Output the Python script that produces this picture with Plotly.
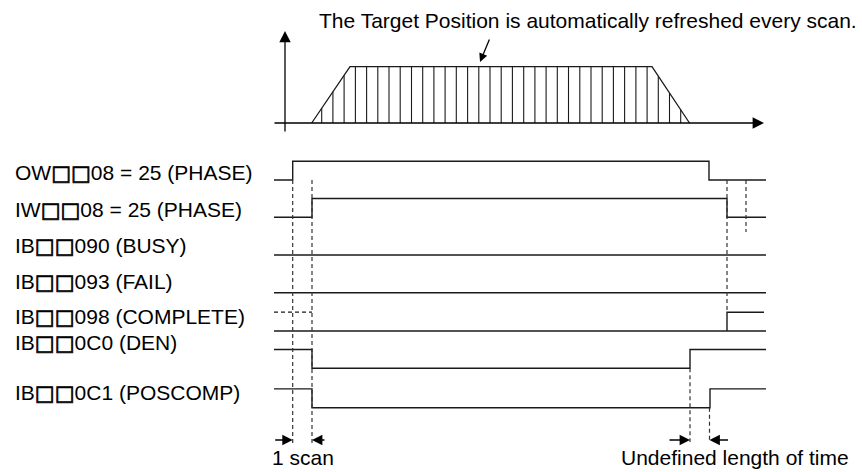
import plotly.graph_objects as go

# ---------------- data ----------------
# top chart: target position profile (time, normalised value)
profile_t = [311.7, 350.0, 652.0, 689.5]
profile_v = [0.0, 1.0, 1.0, 0.0]
# target position sampled on every scan
scan_t = [321.7, 332.9, 344.1, 355.4, 366.6, 377.8, 389.0, 400.2, 411.5, 422.7,
          433.9, 445.1, 456.3, 467.6, 478.8, 490.0, 501.2, 512.4, 523.7, 534.9,
          546.1, 557.3, 568.5, 579.8, 591.0, 602.2, 613.4, 624.6, 635.9, 647.1,
          658.3, 669.5, 680.7]
scan_v = [0.261, 0.554, 0.846] + [1.0] * 27 + [0.832, 0.533, 0.235]

title_text = "The Target Position is automatically refreshed every scan."

# timing diagram signals
SQ = '<span style="font-family:DejaVu Sans;stroke:#000;stroke-width:0.7px">\u25a1\u25a1</span>'
label_prefix = ["OW", "IW", "IB", "IB", "IB", "IB", "IB"]
label_suffix = ["08 = 25 (PHASE)", "08 = 25 (PHASE)", "090 (BUSY)", "093 (FAIL)",
                "098 (COMPLETE)", "0C0 (DEN)", "0C1 (POSCOMP)"]
init_level = [0, 0, 0, 0, 0, 1, 1]
toggle_t = [[292.7, 709.0], [312.0, 727.0], [], [], [727.0], [312.0, 690.0], [312.0, 710.0]]
complete_unknown_t = [274.0, 312.0]   # undefined COMPLETE state before the command
t_start, t_end = 274.0, 766.0

scan_marks = [292.7, 312.0]          # "1 scan"
undefined_marks = [690.0, 709.5]     # "Undefined length of time"
phase_end_marks = [727.0, 746.0]

# ---------------- layout helpers (positions) ----------------
TOP_BASE, TOP_AMP = 123.0, 56.3
row_low = [180.0, 217.3, 255.0, 292.7, 331.0, 368.3, 407.7]
row_label_y = [173.0, 210.0, 246.0, 282.0, 317.0, 343.0, 393.0]
LEVEL_H = 18.8
FONT = "Liberation Sans, Arial, sans-serif"
LINE = "#1a1a1a"

fig = go.Figure()

def seg_trace(xs, ys, width=1.4, dash=None, color=LINE):
    fig.add_trace(go.Scatter(x=xs, y=ys, mode="lines", hoverinfo="skip",
                             line=dict(color=color, width=width, dash=dash)))

def arrow(x, y, ax, ay, size=1.7, width=1.3):
    fig.add_annotation(x=x, y=y, ax=ax, ay=ay, xref="x", yref="y", axref="x", ayref="y",
                       text="", showarrow=True, arrowhead=2, arrowsize=size,
                       arrowwidth=width, arrowcolor="#000000", standoff=0, startstandoff=0)

# ---- top chart ----
arrow(285, 31, 285, 133, size=1.75)
arrow(764, TOP_BASE, 273, TOP_BASE, size=1.75)
seg_trace(profile_t, [TOP_BASE - v * TOP_AMP for v in profile_v], width=1.3)
xs, ys = [], []
for t, v in zip(scan_t, scan_v):
    xs += [t, t, None]
    ys += [TOP_BASE, TOP_BASE - v * TOP_AMP, None]
seg_trace(xs, ys, width=1.1)
fig.add_annotation(x=588, y=20, text=title_text, showarrow=False, xref="x", yref="y",
                   font=dict(family=FONT, size=21, color="#000"), xanchor="center", yanchor="middle")
arrow(480, 62, 490, 38, size=1.3, width=1.3)

# ---- signals ----
for i in range(len(label_prefix)):
    low = row_low[i]
    lvl = init_level[i]
    xs = [t_start]
    ys = [low - lvl * LEVEL_H]
    for t in toggle_t[i]:
        xs += [t, t]
        ys += [low - lvl * LEVEL_H, low - (1 - lvl) * LEVEL_H]
        lvl = 1 - lvl
    xs.append(t_end)
    ys.append(low - lvl * LEVEL_H)
    if i == 4:
        seg_trace([t_start, t_end], [low, low])
        seg_trace([toggle_t[i][0], toggle_t[i][0], t_end - 2],
                  [low, low - LEVEL_H, low - LEVEL_H])
        seg_trace(complete_unknown_t, [low - LEVEL_H, low - LEVEL_H], width=1.2, dash="4px,3px")
    else:
        seg_trace(xs, ys)
    fig.add_annotation(x=13, y=row_label_y[i], text=label_prefix[i] + SQ + label_suffix[i],
                       showarrow=False, xref="x", yref="y", xanchor="left", yanchor="middle",
                       font=dict(family=FONT, size=21, color="#000"))

# ---- dashed markers ----
DASH = "4px,3px"
xs, ys = [], []
for t in scan_marks:
    xs += [t, t, None]; ys += [row_low[0], 446, None]
xs += [phase_end_marks[0], phase_end_marks[0], None]; ys += [row_low[0], row_low[4] - LEVEL_H, None]
xs += [phase_end_marks[1], phase_end_marks[1], None]; ys += [row_low[0], 232, None]
xs += [undefined_marks[0], undefined_marks[0], None]; ys += [row_low[5], 442, None]
xs += [undefined_marks[1], undefined_marks[1], None]; ys += [row_low[6], 442, None]
seg_trace(xs, ys, width=1.2, dash=DASH, color="#333333")

# ---- dimension arrows ----
ARW_Y = 440
arrow(scan_marks[0], ARW_Y, scan_marks[0] - 19, ARW_Y, size=1.6)
arrow(scan_marks[1], ARW_Y, scan_marks[1] + 14, ARW_Y, size=1.6)
arrow(undefined_marks[0], ARW_Y, undefined_marks[0] - 22, ARW_Y, size=1.6)
arrow(undefined_marks[1], ARW_Y, undefined_marks[1] + 20, ARW_Y, size=1.6)
fig.add_annotation(x=303, y=457.5, text="1 scan", showarrow=False, xref="x", yref="y",
                   font=dict(family=FONT, size=21, color="#000"), xanchor="center", yanchor="middle")
fig.add_annotation(x=734.7, y=457.5, text="Undefined length of time", showarrow=False, xref="x", yref="y",
                   font=dict(family=FONT, size=21, color="#000"), xanchor="center", yanchor="middle")

fig.update_layout(width=862, height=472, margin=dict(l=0, r=0, t=0, b=0),
                  paper_bgcolor="white", plot_bgcolor="white", showlegend=False,
                  xaxis=dict(range=[0, 862], visible=False, fixedrange=True),
                  yaxis=dict(range=[472, 0], visible=False, fixedrange=True))
fig.write_html("out.html", config={"displayModeBar": False},
               post_script="document.body.style.margin='0';document.body.style.overflow='hidden';")
